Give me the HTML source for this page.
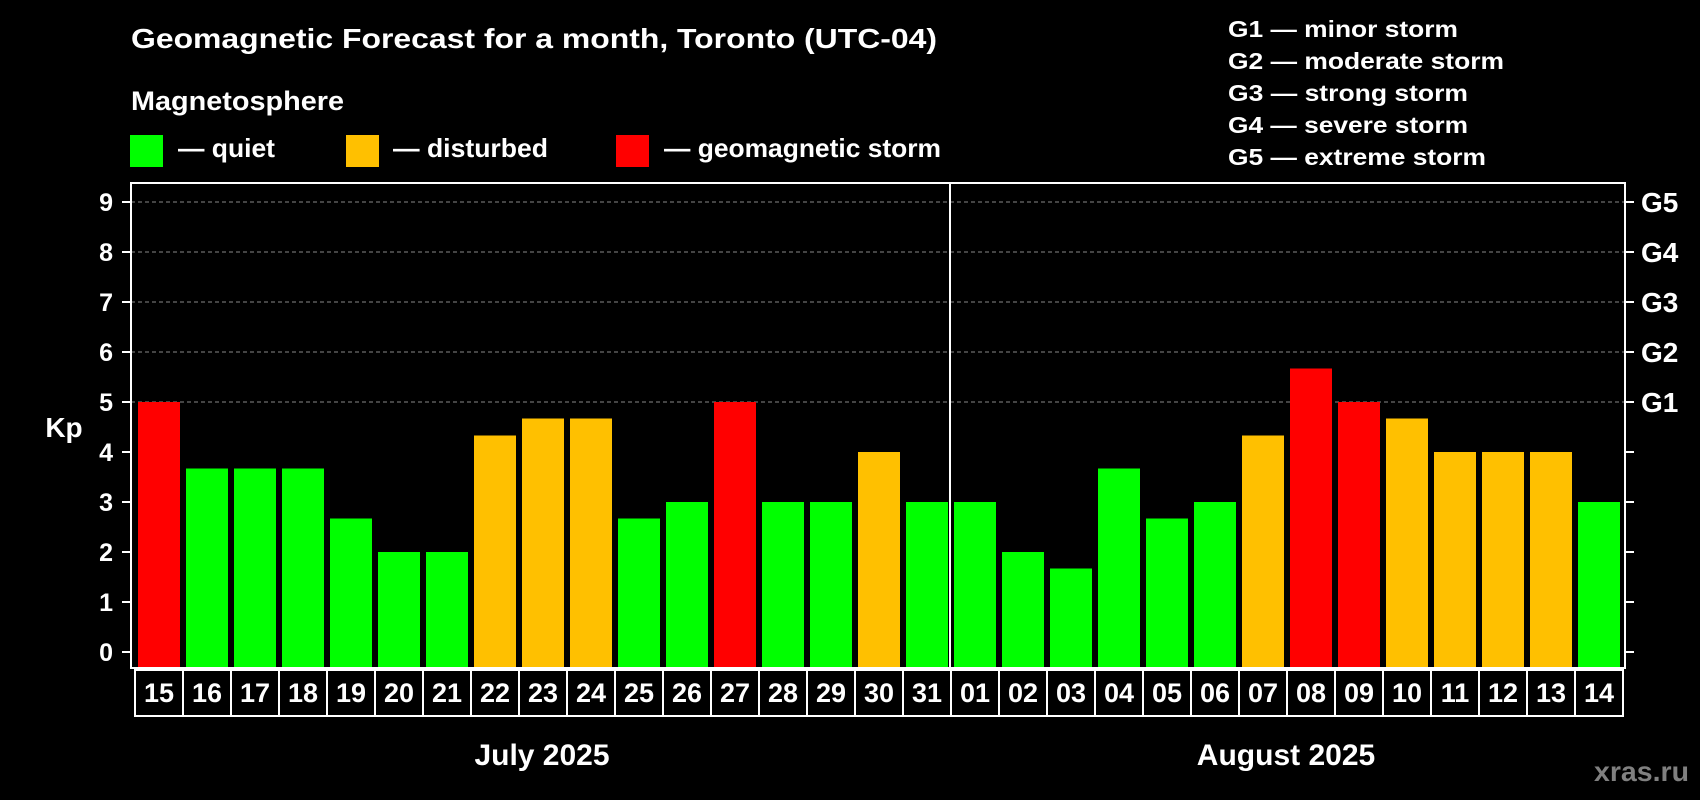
<!DOCTYPE html>
<html><head><meta charset="utf-8"><style>
html,body{margin:0;padding:0;background:#000;}
svg{display:block;font-family:"Liberation Sans",Arial,sans-serif;font-weight:bold;}
</style></head><body>
<svg id="chart" width="1700" height="800" viewBox="0 0 1700 800">
<rect width="1700" height="800" fill="#000"/>
<text x="131" y="48" fill="#fff" font-size="28" textLength="806" lengthAdjust="spacingAndGlyphs">Geomagnetic Forecast for a month, Toronto (UTC-04)</text>
<text x="131" y="110" fill="#fff" font-size="27" textLength="213" lengthAdjust="spacingAndGlyphs">Magnetosphere</text>
<g>
<rect x="130" y="135" width="33" height="32" fill="#00ff00"/>
<text x="178" y="157" fill="#fff" font-size="26" textLength="97" lengthAdjust="spacingAndGlyphs">— quiet</text>
</g>
<g>
<rect x="346" y="135" width="33" height="32" fill="#ffc000"/>
<text x="393" y="157" fill="#fff" font-size="26" textLength="155" lengthAdjust="spacingAndGlyphs">— disturbed</text>
</g>
<g>
<rect x="616" y="135" width="33" height="32" fill="#ff0000"/>
<text x="664" y="157" fill="#fff" font-size="26" textLength="277" lengthAdjust="spacingAndGlyphs">— geomagnetic storm</text>
</g>
<g>
<text x="1228" y="37" fill="#fff" font-size="23" textLength="230" lengthAdjust="spacingAndGlyphs">G1 — minor storm</text>
<text x="1228" y="69" fill="#fff" font-size="23" textLength="276" lengthAdjust="spacingAndGlyphs">G2 — moderate storm</text>
<text x="1228" y="101" fill="#fff" font-size="23" textLength="240" lengthAdjust="spacingAndGlyphs">G3 — strong storm</text>
<text x="1228" y="133" fill="#fff" font-size="23" textLength="240" lengthAdjust="spacingAndGlyphs">G4 — severe storm</text>
<text x="1228" y="165" fill="#fff" font-size="23" textLength="258" lengthAdjust="spacingAndGlyphs">G5 — extreme storm</text>
</g>
<g id="plot"></g>
<text x="64" y="437" fill="#fff" font-size="28" text-anchor="middle">Kp</text>
<text x="542" y="765" fill="#fff" font-size="30" text-anchor="middle">July 2025</text>
<text x="1286" y="765" fill="#fff" font-size="30" text-anchor="middle">August 2025</text>
<text x="1689" y="781" fill="#808080" font-size="28" text-anchor="end" textLength="95" lengthAdjust="spacingAndGlyphs">xras.ru</text>
</svg>
<script>
const days = ["15","16","17","18","19","20","21","22","23","24","25","26","27","28","29","30","31","01","02","03","04","05","06","07","08","09","10","11","12","13","14"];
const kpValues = [5,3.67,3.67,3.67,2.67,2,2,4.33,4.67,4.67,2.67,3,5,3,3,4,3,3,2,1.67,3.67,2.67,3,4.33,5.67,5,4.67,4,4,4,3];
const yTicks = [0,1,2,3,4,5,6,7,8,9];
const gLabels = ["G1","G2","G3","G4","G5"];
const gLevels = [5,6,7,8,9];

const NS = "http://www.w3.org/2000/svg";
const plot = document.getElementById("plot");
const L = 131, R = 1625, T = 183, B = 668;
const slotStart = 135, slotW = 48, barW = 42;
const y = v => 652 - v * 50;
const xc = i => slotStart + slotW * i + slotW / 2;
function mk(tag, attrs) { const e = document.createElementNS(NS, tag); for (const k in attrs) e.setAttribute(k, attrs[k]); plot.appendChild(e); return e; }
function color(v) { return v >= 5 ? "#ff0000" : (v >= 4 ? "#ffc000" : "#00ff00"); }

yTicks.forEach(t => {
  if (t >= 5) {
    const g = mk("line", {x1: L, x2: R, y1: y(t), y2: y(t), stroke: "#888", "stroke-width": 1, "stroke-dasharray": "4,3"});
    
    
  }
  const tl = mk("line", {x1: L - 9, x2: L, y1: y(t), y2: y(t), stroke: "#fff", "stroke-width": 2});
  
  
  const tr = mk("line", {x1: R, x2: R + 9, y1: y(t), y2: y(t), stroke: "#fff", "stroke-width": 2});
  
  
  const lab = mk("text", {x: 113, y: y(t) + 9, fill: "#fff", "font-size": 25, "text-anchor": "end"});
  lab.textContent = t;
  
  
});
gLabels.forEach((g, i) => {
  const lab = mk("text", {x: 1641, y: y(gLevels[i]) + 10, fill: "#fff", "font-size": 28});
  lab.textContent = g;
  
  
});

kpValues.forEach((v, i) => {
  const b = mk("rect", {x: xc(i) - barW / 2, y: y(v), width: barW, height: B - y(v), fill: color(v)});
  
  
});

const fr = mk("rect", {x: L, y: T, width: R - L, height: B - T, fill: "none", stroke: "#fff", "stroke-width": 2});


const julyCount = days.indexOf("01");
const dv = mk("line", {x1: slotStart + slotW * julyCount - 1, x2: slotStart + slotW * julyCount - 1, y1: T, y2: B, stroke: "#fff", "stroke-width": 2});



days.forEach((d, i) => {
  const bx = mk("rect", {x: slotStart + slotW * i, y: 670, width: slotW, height: 46, fill: "none", stroke: "#fff", "stroke-width": 2});
  
  
  const t = mk("text", {x: xc(i), y: 702, fill: "#fff", "font-size": 27, "text-anchor": "middle"});
  t.textContent = d;
  
  
});
</script>
</body></html>
